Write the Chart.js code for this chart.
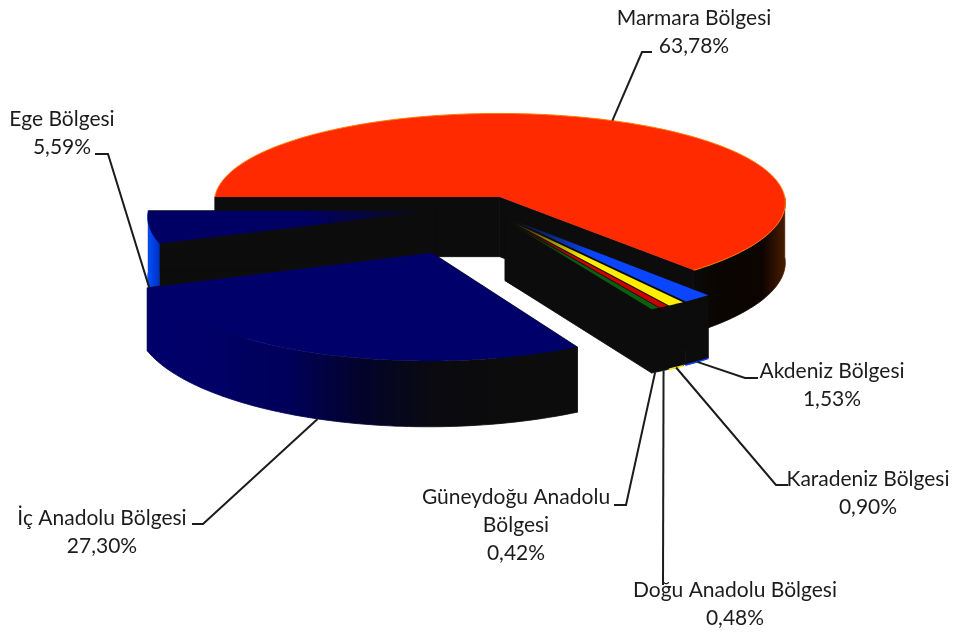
<!DOCTYPE html>
<html>
<head>
<meta charset="utf-8">
<title>Bölgeler</title>
<script src="https://cdn.jsdelivr.net/npm/chart.js@4/dist/chart.umd.min.js"></script>
<style>
  body { margin: 0; background: #fff; }
  canvas { display: block; }
</style>
</head>
<body>
<canvas id="regionChart" width="954" height="635"></canvas>
<script>
const categories = [
  "Marmara Bölgesi",
  "Akdeniz Bölgesi",
  "Karadeniz Bölgesi",
  "Doğu Anadolu Bölgesi",
  "Güneydoğu Anadolu\nBölgesi",
  "İç Anadolu Bölgesi",
  "Ege Bölgesi",
];
const shares = [63.78, 1.53, 0.9, 0.48, 0.42, 27.3, 5.59];

// slice styling, same order as categories
const topColors = ["#ff2a00", "#0a46ff", "#ffee00", "#c80000", "#0a6010", "#00006a", "#000064"];
const explode = [13.2, 15, 15, 15, 15, 50, 17];
const fadeToApex = [false, true, true, true, true, false, true];
const wallColors = [
  ["#0a0a0a", "#0a0500", "#0a0500", "#0c0400", "#4a1c00"],
  ["#0c0c0c", "#0c0c0c"],
  ["#0c0c0c", "#0c0c0c"],
  ["#0c0c0c", "#0c0c0c"],
  ["#0c0c0c", "#0c0c0c"],
  ["#00006a", "#000066", "#000058", "#03032a", "#0a0a10", "#0c0c0c", "#0c0c0c"],
  ["#0050ff", "#0030c0"],
];
const rimColors = [null, "#0a46ff", "#ffee00", null, null, null, null];
const topEdgeColors = ["#ff7a00", null, null, null, null, null, null];
const drawOrder = [0, 1, 2, 3, 4, 6, 5];

// label placement: leader elbow, leader end, text centre and first baseline
const leaderElbows = [[642, 52], [745, 378], [776, 485], [663, 585], [626, 505], [203, 524], [108, 154]];
const leaderEnds = [[652, 52], [758, 378], [788, 485], [663, 585], [614, 505], [192, 524], [95, 154]];
const labelCentres = [694, 832, 868, 735, 516, 102, 62];
const labelBaselines = [25, 378, 486, 597, 504, 525, 126];

const CUT_COLOR = "#0c0c0c";
const TEXT_COLOR = "#1c1c1c";
const FONT = '21px Lato';
const LINE_GAP = 28;

// perspective of the pie plane, units are radii
const SCALE_X = 287;
const SCALE_Y = 92;
const PERSP_X = 0.06;
const PERSP_Y = 0.08;
const WALL = 60;
const PERSP_WALL = 0.06;

function project(arc, u, v) {
  return {
    x: arc.x + (SCALE_X * u) / (1 - PERSP_X * v),
    y: arc.y + (SCALE_Y * v) / (1 - PERSP_Y * v),
    drop: WALL / (1 - PERSP_WALL * v),
  };
}

function slicePoint(arc, angle) {
  const mid = (arc.startAngle + arc.endAngle) / 2;
  const off = arc.options.offset / arc.outerRadius;
  return project(arc, off * Math.cos(mid) + Math.cos(angle), off * Math.sin(mid) + Math.sin(angle));
}

function sliceApex(arc) {
  const mid = (arc.startAngle + arc.endAngle) / 2;
  const off = arc.options.offset / arc.outerRadius;
  return project(arc, off * Math.cos(mid), off * Math.sin(mid));
}

function rimPoints(arc, from, to) {
  const pts = [];
  const steps = Math.max(2, Math.ceil((to - from) / 0.02));
  for (let i = 0; i <= steps; i++) {
    pts.push(slicePoint(arc, from + ((to - from) * i) / steps));
  }
  return pts;
}

function tracePoly(ctx, pts) {
  ctx.beginPath();
  pts.forEach((p, i) => (i ? ctx.lineTo(p.x, p.y) : ctx.moveTo(p.x, p.y)));
}

// the thin stroke closes the hairlines between neighbouring polygons
function fillSolid(ctx, pts, fill) {
  tracePoly(ctx, pts);
  ctx.closePath();
  ctx.fillStyle = fill;
  ctx.strokeStyle = fill;
  ctx.lineWidth = 0.8;
  ctx.fill();
  ctx.stroke();
}

function lowered(p) {
  return { x: p.x, y: p.y + p.drop };
}

function drawSlice(ctx, arc, i) {
  const apex = sliceApex(arc);
  const first = slicePoint(arc, arc.startAngle);
  const last = slicePoint(arc, arc.endAngle);

  // cut faces
  fillSolid(ctx, [apex, first, lowered(first), lowered(apex)], CUT_COLOR);
  fillSolid(ctx, [apex, last, lowered(last), lowered(apex)], CUT_COLOR);

  // outer wall, front half only
  const lo = Math.max(arc.startAngle, 0);
  const hi = Math.min(arc.endAngle, Math.PI);
  if (hi > lo) {
    const rim = rimPoints(arc, lo, hi);
    const xs = rim.map((p) => p.x);
    const grad = ctx.createLinearGradient(Math.min(...xs), 0, Math.max(...xs), 0);
    wallColors[i].forEach((c, n) => grad.addColorStop(n / (wallColors[i].length - 1), c));
    fillSolid(ctx, rim.concat(rim.map(lowered).reverse()), grad);
    if (rimColors[i]) {
      tracePoly(ctx, rim.map(lowered));
      ctx.strokeStyle = rimColors[i];
      ctx.lineWidth = 1.5;
      ctx.stroke();
    }
  }

  // top face
  let top = arc.options.backgroundColor;
  if (fadeToApex[i]) {
    const m = slicePoint(arc, (arc.startAngle + arc.endAngle) / 2);
    top = ctx.createLinearGradient(m.x, m.y, apex.x, apex.y);
    top.addColorStop(0, arc.options.backgroundColor);
    top.addColorStop(0.55, arc.options.backgroundColor);
    top.addColorStop(1, CUT_COLOR);
  }
  const outline = rimPoints(arc, arc.startAngle, arc.endAngle);
  tracePoly(ctx, [apex].concat(outline));
  ctx.closePath();
  ctx.fillStyle = top;
  ctx.fill();
  if (topEdgeColors[i]) {
    tracePoly(ctx, outline);
    ctx.strokeStyle = topEdgeColors[i];
    ctx.lineWidth = 1;
    ctx.stroke();
  }
}

function drawLabel(ctx, arc, i) {
  const mid = (arc.startAngle + arc.endAngle) / 2;
  const rim = slicePoint(arc, mid);
  const start = Math.sin(mid) >= 0 ? lowered(rim) : rim;

  ctx.beginPath();
  ctx.moveTo(start.x, start.y);
  ctx.lineTo(leaderElbows[i][0], leaderElbows[i][1]);
  ctx.lineTo(leaderEnds[i][0], leaderEnds[i][1]);
  ctx.strokeStyle = TEXT_COLOR;
  ctx.lineWidth = 2;
  ctx.stroke();

  const lines = categories[i].split("\n");
  lines.push(shares[i].toFixed(2).replace(".", ",") + "%");
  ctx.font = FONT;
  ctx.fillStyle = TEXT_COLOR;
  ctx.textAlign = "center";
  ctx.textBaseline = "alphabetic";
  lines.forEach((line, n) => ctx.fillText(line, labelCentres[i], labelBaselines[i] + n * LINE_GAP));
}

const pie3d = {
  id: "pie3d",
  beforeDatasetDraw(chart) {
    const ctx = chart.ctx;
    const arcs = chart.getDatasetMeta(0).data;
    ctx.save();
    drawOrder.forEach((i) => drawSlice(ctx, arcs[i], i));
    arcs.forEach((arc, i) => drawLabel(ctx, arc, i));
    ctx.restore();
    return false;
  },
};

new Chart(document.getElementById("regionChart").getContext("2d"), {
  type: "pie",
  data: {
    labels: categories,
    datasets: [
      {
        data: shares,
        backgroundColor: topColors,
        offset: explode,
        radius: 100,
        borderWidth: 0,
      },
    ],
  },
  options: {
    responsive: false,
    animation: false,
    rotation: -90,
    // puts the pie centre where the perspective expects it
    layout: { padding: { left: 14, bottom: 219 } },
    plugins: {
      legend: { display: false },
      tooltip: { enabled: false },
    },
  },
  plugins: [pie3d],
});
</script>
</body>
</html>
